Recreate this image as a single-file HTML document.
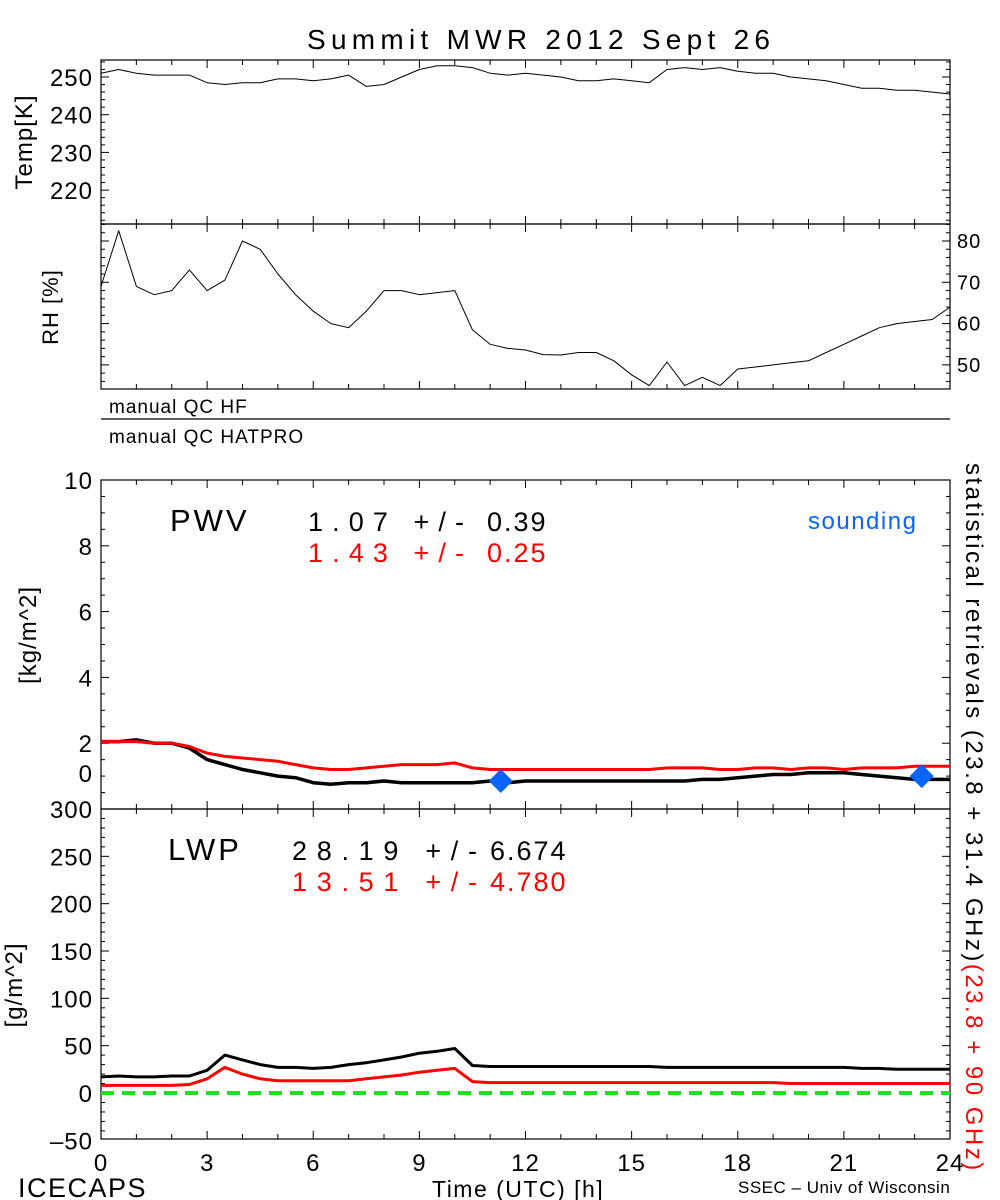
<!DOCTYPE html>
<html><head><meta charset="utf-8">
<style>
html,body{margin:0;padding:0;background:#fff;}
svg{display:block;font-family:"Liberation Sans",sans-serif;}
</style></head>
<body>
<svg id="chart" width="1000" height="1200" viewBox="0 0 1000 1200" xmlns="http://www.w3.org/2000/svg">
<text x="307" y="49" font-size="28" textLength="463" lengthAdjust="spacing">Summit MWR 2012 Sept 26</text>
<g id="g"></g>
</svg>
<script>
const hours = [0,0.5,1,1.5,2,2.5,3,3.5,4,4.5,5,5.5,6,6.5,7,7.5,8,8.5,9,9.5,10,10.5,11,11.5,12,12.5,13,13.5,14,14.5,15,15.5,16,16.5,17,17.5,18,18.5,19,19.5,20,20.5,21,21.5,22,22.5,23,23.5,24];
const tempK = [251,252,251,250.5,250.5,250.5,248.5,248,248.5,248.5,249.5,249.5,249,249.5,250.5,247.5,248,250,252,253,253,252.5,251,250.5,251,250.5,250,249,249,249.5,249,248.5,252,252.5,252,252.5,251.5,251,251,250,249.5,249,248,247,247,246.5,246.5,246,245.5];
const rhPct = [69,82.5,69,67,68,73,68,70.5,80,78,72,67,63,60,59,63,68,68,67,67.5,68,58.5,55,54,53.6,52.5,52.4,53,53,51,47.6,45,50.7,45,47,45,49,49.5,50,50.5,51,53,55,57,59,60,60.5,61,64];
const pwvBlack = [2.05,2.05,2.1,2.0,2.0,1.85,1.5,1.35,1.2,1.1,1.0,0.95,0.8,0.75,0.8,0.8,0.85,0.8,0.8,0.8,0.8,0.8,0.85,0.8,0.85,0.85,0.85,0.85,0.85,0.85,0.85,0.85,0.85,0.85,0.9,0.9,0.95,1.0,1.05,1.05,1.1,1.1,1.1,1.05,1.0,0.95,0.9,0.9,0.9];
const pwvRed = [2.05,2.05,2.05,2.0,2.0,1.9,1.7,1.6,1.55,1.5,1.45,1.35,1.25,1.2,1.2,1.25,1.3,1.35,1.35,1.35,1.4,1.25,1.2,1.2,1.2,1.2,1.2,1.2,1.2,1.2,1.2,1.2,1.25,1.25,1.25,1.2,1.2,1.25,1.25,1.2,1.25,1.25,1.2,1.25,1.25,1.25,1.3,1.3,1.3];
const lwpBlack = [17,18,17,17,18,18,24,40,35,30,27,27,26,27,30,32,35,38,42,44,47,29,28,28,28,28,28,28,28,28,28,28,27,27,27,27,27,27,27,27,27,27,27,26,26,25,25,25,25];
const lwpRed = [8,8,8,8,8,9,15,27,20,15,13,13,13,13,13,15,17,19,22,24,26,12,11,11,11,11,11,11,11,11,11,11,11,11,11,11,11,11,11,10,10,10,10,10,10,10,10,10,10];
const soundHours = [11.3,23.2];
const soundPwv = [0.85,1.0];
const xTicks = [0,3,6,9,12,15,18,21,24];
const tempTicks = [220,230,240,250];
const rhTicks = [50,60,70,80];
const pwvTicks = [2,4,6,8,10];
const lwpTicks = [-50,0,50,100,150,200,250,300];

const NS="http://www.w3.org/2000/svg";
const G=document.getElementById('g');
const L=101,R=950;
const xs=h=>L+(R-L)*h/24;
const lin=(d0,d1,p0,p1)=>v=>p0+(v-d0)*(p1-p0)/(d1-d0);
const yT=lin(250,240,77,114.7);
const yRH=lin(80,70,241,282.3);
const yP=lin(0,10,809,480);
const yL=lin(0,300,1093,809);
function mk(tag,attrs,parent){const e=document.createElementNS(NS,tag);for(const k in attrs)e.setAttribute(k,attrs[k]);(parent||G).appendChild(e);return e;}
function txt(x,y,s,size,attrs){const t=mk('text',Object.assign({x:x,y:y,'font-size':size,'letter-spacing':1},attrs||{}));t.textContent=s;return t;}
function frame(top,bot,name){
  const r=mk('rect',{x:L,y:top,width:R-L,height:bot-top,fill:'none',stroke:'#000','stroke-width':1.2});
  
  
  for(let h=0;h<=24;h++){const len=h%3===0?8:5;mk('line',{x1:xs(h),x2:xs(h),y1:top,y2:top+len,stroke:'#000'});mk('line',{x1:xs(h),x2:xs(h),y1:bot,y2:bot-len,stroke:'#000'});}
}
function yminor(top,bot,scale,v0,v1,step,major,side){
  for(let v=v0;v<=v1+1e-9;v+=step){const y=scale(v);if(y<top-0.5||y>bot+0.5)continue;const len=(Math.abs(v/major-Math.round(v/major))<1e-6)?8:4;
    if(side!=='r')mk('line',{x1:L,x2:L+len,y1:y,y2:y,stroke:'#000'});
    if(side!=='l')mk('line',{x1:R,x2:R-len,y1:y,y2:y,stroke:'#000'});}
}
function path(xsArr,ysArr,sx,sy,color,w,name){
  let d='';xsArr.forEach((h,i)=>{d+=(i?'L':'M')+sx(h).toFixed(1)+','+sy(ysArr[i]).toFixed(1);});
  const p=mk('path',{d:d,fill:'none',stroke:color,'stroke-width':w,'stroke-linejoin':'round'});
  
  
  return p;
}
// Temp panel
frame(60,224,'temp-panel');
yminor(60,224,yT,210,254,2,10,'both');
tempTicks.forEach(v=>{const t=txt(93,yT(v)+9,String(v),24,{'text-anchor':'end'});});
let t=txt(0,0,'Temp[K]',24,{transform:'translate(32,142) rotate(-90)','text-anchor':'middle'});

path(hours,tempK,xs,yT,'#000',1,'temp-line');
// RH panel
frame(224,389,'rh-panel');
yminor(224,389,yRH,44,84,2,10,'both');
rhTicks.forEach(v=>{const t=txt(957,yRH(v)+7,String(v),20,{'text-anchor':'start'});});
t=txt(0,0,'RH [%]',22,{transform:'translate(58,307) rotate(-90)','text-anchor':'middle'});

path(hours,rhPct,xs,yRH,'#000',1,'rh-line');
// QC
t=txt(109,413,'manual  QC  HF',19,{'xml:space':'preserve'});
mk('line',{x1:L,x2:R,y1:419,y2:419,stroke:'#000','stroke-width':1.2});
t=txt(109,443,'manual  QC  HATPRO',19,{'xml:space':'preserve'});
// PWV panel
frame(480,809,'pwv-panel');
yminor(480,809,yP,0,10,0.5,2,'both');
pwvTicks.forEach(v=>{const t=txt(93,yP(v)+9,String(v),24,{'text-anchor':'end'});});
t=txt(93,782,'0',24,{'text-anchor':'end'});
t=txt(0,0,'[kg/m^2]',24,{transform:'translate(36,635) rotate(-90)','text-anchor':'middle'});

path(hours,pwvBlack,xs,yP,'#000',3.5,'pwv-black-line');
path(hours,pwvRed,xs,yP,'#f00',3,'pwv-red-line');
soundHours.forEach((h,i)=>{const cx=xs(h),cy=yP(soundPwv[i]);const p=mk('polygon',{points:`${cx},${cy-12} ${cx+12},${cy} ${cx},${cy+12} ${cx-12},${cy}`,fill:'#0a64ff'});
  
  });
t=txt(170,531,'PWV',31,{'letter-spacing':3});
t=txt(308,531,'1.07 +/-',27,{textLength:157,lengthAdjust:'spacing','xml:space':'preserve'});
t=txt(487,531,'0.39',27,{'letter-spacing':2});
t=txt(308,562,'1.43 +/-',27,{fill:'#f00',textLength:157,lengthAdjust:'spacing','xml:space':'preserve'});
t=txt(487,562,'0.25',27,{fill:'#f00','letter-spacing':2});
t=txt(808,529,'sounding',24,{fill:'#0a64ff','letter-spacing':1.5});
// LWP panel
frame(809,1139,'lwp-panel');
yminor(809,1139,yL,-50,300,10,50,'both');
lwpTicks.forEach(v=>{const t=txt(93,yL(v)+9,String(v).replace('-','\u2013'),24,{'text-anchor':'end'});});
t=txt(0,0,'[g/m^2]',24,{transform:'translate(22,985) rotate(-90)','text-anchor':'middle'});

let z=mk('line',{x1:L,x2:R,y1:yL(0),y2:yL(0),stroke:'#22dd22','stroke-width':4,'stroke-dasharray':'13,8'});

path(hours,lwpBlack,xs,yL,'#000',3,'lwp-black-line');
path(hours,lwpRed,xs,yL,'#f00',3,'lwp-red-line');
t=txt(168,860,'LWP',31,{'letter-spacing':3});
t=txt(292,860,'28.19 +/-',27,{textLength:186,lengthAdjust:'spacing','xml:space':'preserve'});
t=txt(490,860,'6.674',27,{'letter-spacing':2});
t=txt(292,891,'13.51 +/-',27,{fill:'#f00',textLength:186,lengthAdjust:'spacing','xml:space':'preserve'});
t=txt(490,891,'4.780',27,{fill:'#f00','letter-spacing':2});
// x axis
xTicks.forEach(h=>{const t=txt(xs(h),1171,String(h),24,{'text-anchor':'middle'});});
t=txt(18,1197,'ICECAPS',27,{'letter-spacing':1.5});
t=txt(432,1197,'Time (UTC) [h]',23,{'letter-spacing':1.5});
t=txt(738,1193,'SSEC \u2013 Univ of Wisconsin',17,{'letter-spacing':0.5});
// right vertical text
const vt=mk('text',{transform:'translate(966,463) rotate(90)','font-size':24,'letter-spacing':2.5,'xml:space':'preserve'});


const s1=mk('tspan',{},vt);s1.textContent='statistical  retrievals (23.8 + 31.4 GHz)';
const s2=mk('tspan',{fill:'#f00'},vt);s2.textContent='(23.8 + 90 GHz)';
</script>
</body></html>
